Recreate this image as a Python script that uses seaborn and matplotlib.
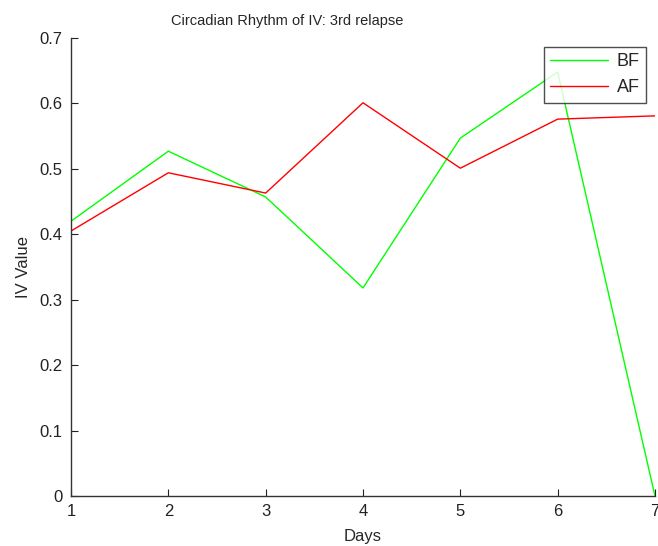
import matplotlib
matplotlib.use("Agg")
import matplotlib.pyplot as plt
import seaborn as sns
import pandas as pd

days = [1, 2, 3, 4, 5, 6, 7]
bf_values = [0.420, 0.527, 0.457, 0.318, 0.547, 0.648, 0.0]
af_values = [0.405, 0.494, 0.463, 0.601, 0.501, 0.576, 0.581]
series_names = ["BF", "AF"]
series_colors = ["#00ff00", "#ff0000"]

df = pd.DataFrame({
    "Days": days * 2,
    "IV Value": bf_values + af_values,
    "Series": [series_names[0]] * len(days) + [series_names[1]] * len(days),
})

sns.set_style("white")
plt.rcParams["font.family"] = ["Liberation Sans", "DejaVu Sans"]
plt.rcParams["xtick.bottom"] = True
plt.rcParams["ytick.left"] = True

fig = plt.figure(figsize=(6.58, 5.46), dpi=100)
ax = fig.add_axes([71 / 658, 50 / 546, 584 / 658, 458 / 546])

sns.lineplot(data=df, x="Days", y="IV Value", hue="Series",
             palette=dict(zip(series_names, series_colors)),
             linewidth=1.0, ax=ax, legend=True)

ax.set_xlim(1, 7)
ax.set_ylim(0, 0.7)
ax.set_xticks(days)
ax.set_yticks([0, 0.1, 0.2, 0.3, 0.4, 0.5, 0.6, 0.7])
ax.set_yticklabels(["0", "0.1", "0.2", "0.3", "0.4", "0.5", "0.6", "0.7"])
ax.tick_params(direction="in", length=5, width=0.8, labelsize=12, colors="#222222",
               pad=6, bottom=True, left=True)
for side in ["top", "right"]:
    ax.spines[side].set_visible(False)
for side in ["left", "bottom"]:
    ax.spines[side].set_color("#333333")
    ax.spines[side].set_linewidth(1.0)

ax.set_title("Circadian Rhythm of IV: 3rd relapse", fontsize=10.5,
             x=(287 - 71) / 584, pad=9)
ax.set_xlabel("Days", fontsize=12, labelpad=7)
ax.set_ylabel("IV Value", fontsize=12, labelpad=6)

leg = ax.legend(loc="upper right", bbox_to_anchor=(646 / 658, 1 - 47 / 546),
                bbox_transform=fig.transFigure, fontsize=13, frameon=True,
                fancybox=False, edgecolor="#222222", handlelength=3.2,
                borderpad=0.35, labelspacing=0.5, handletextpad=0.5,
                borderaxespad=0)
leg.get_frame().set_linewidth(1.0)
leg.set_title(None)

fig.savefig("out.png", dpi=100)
